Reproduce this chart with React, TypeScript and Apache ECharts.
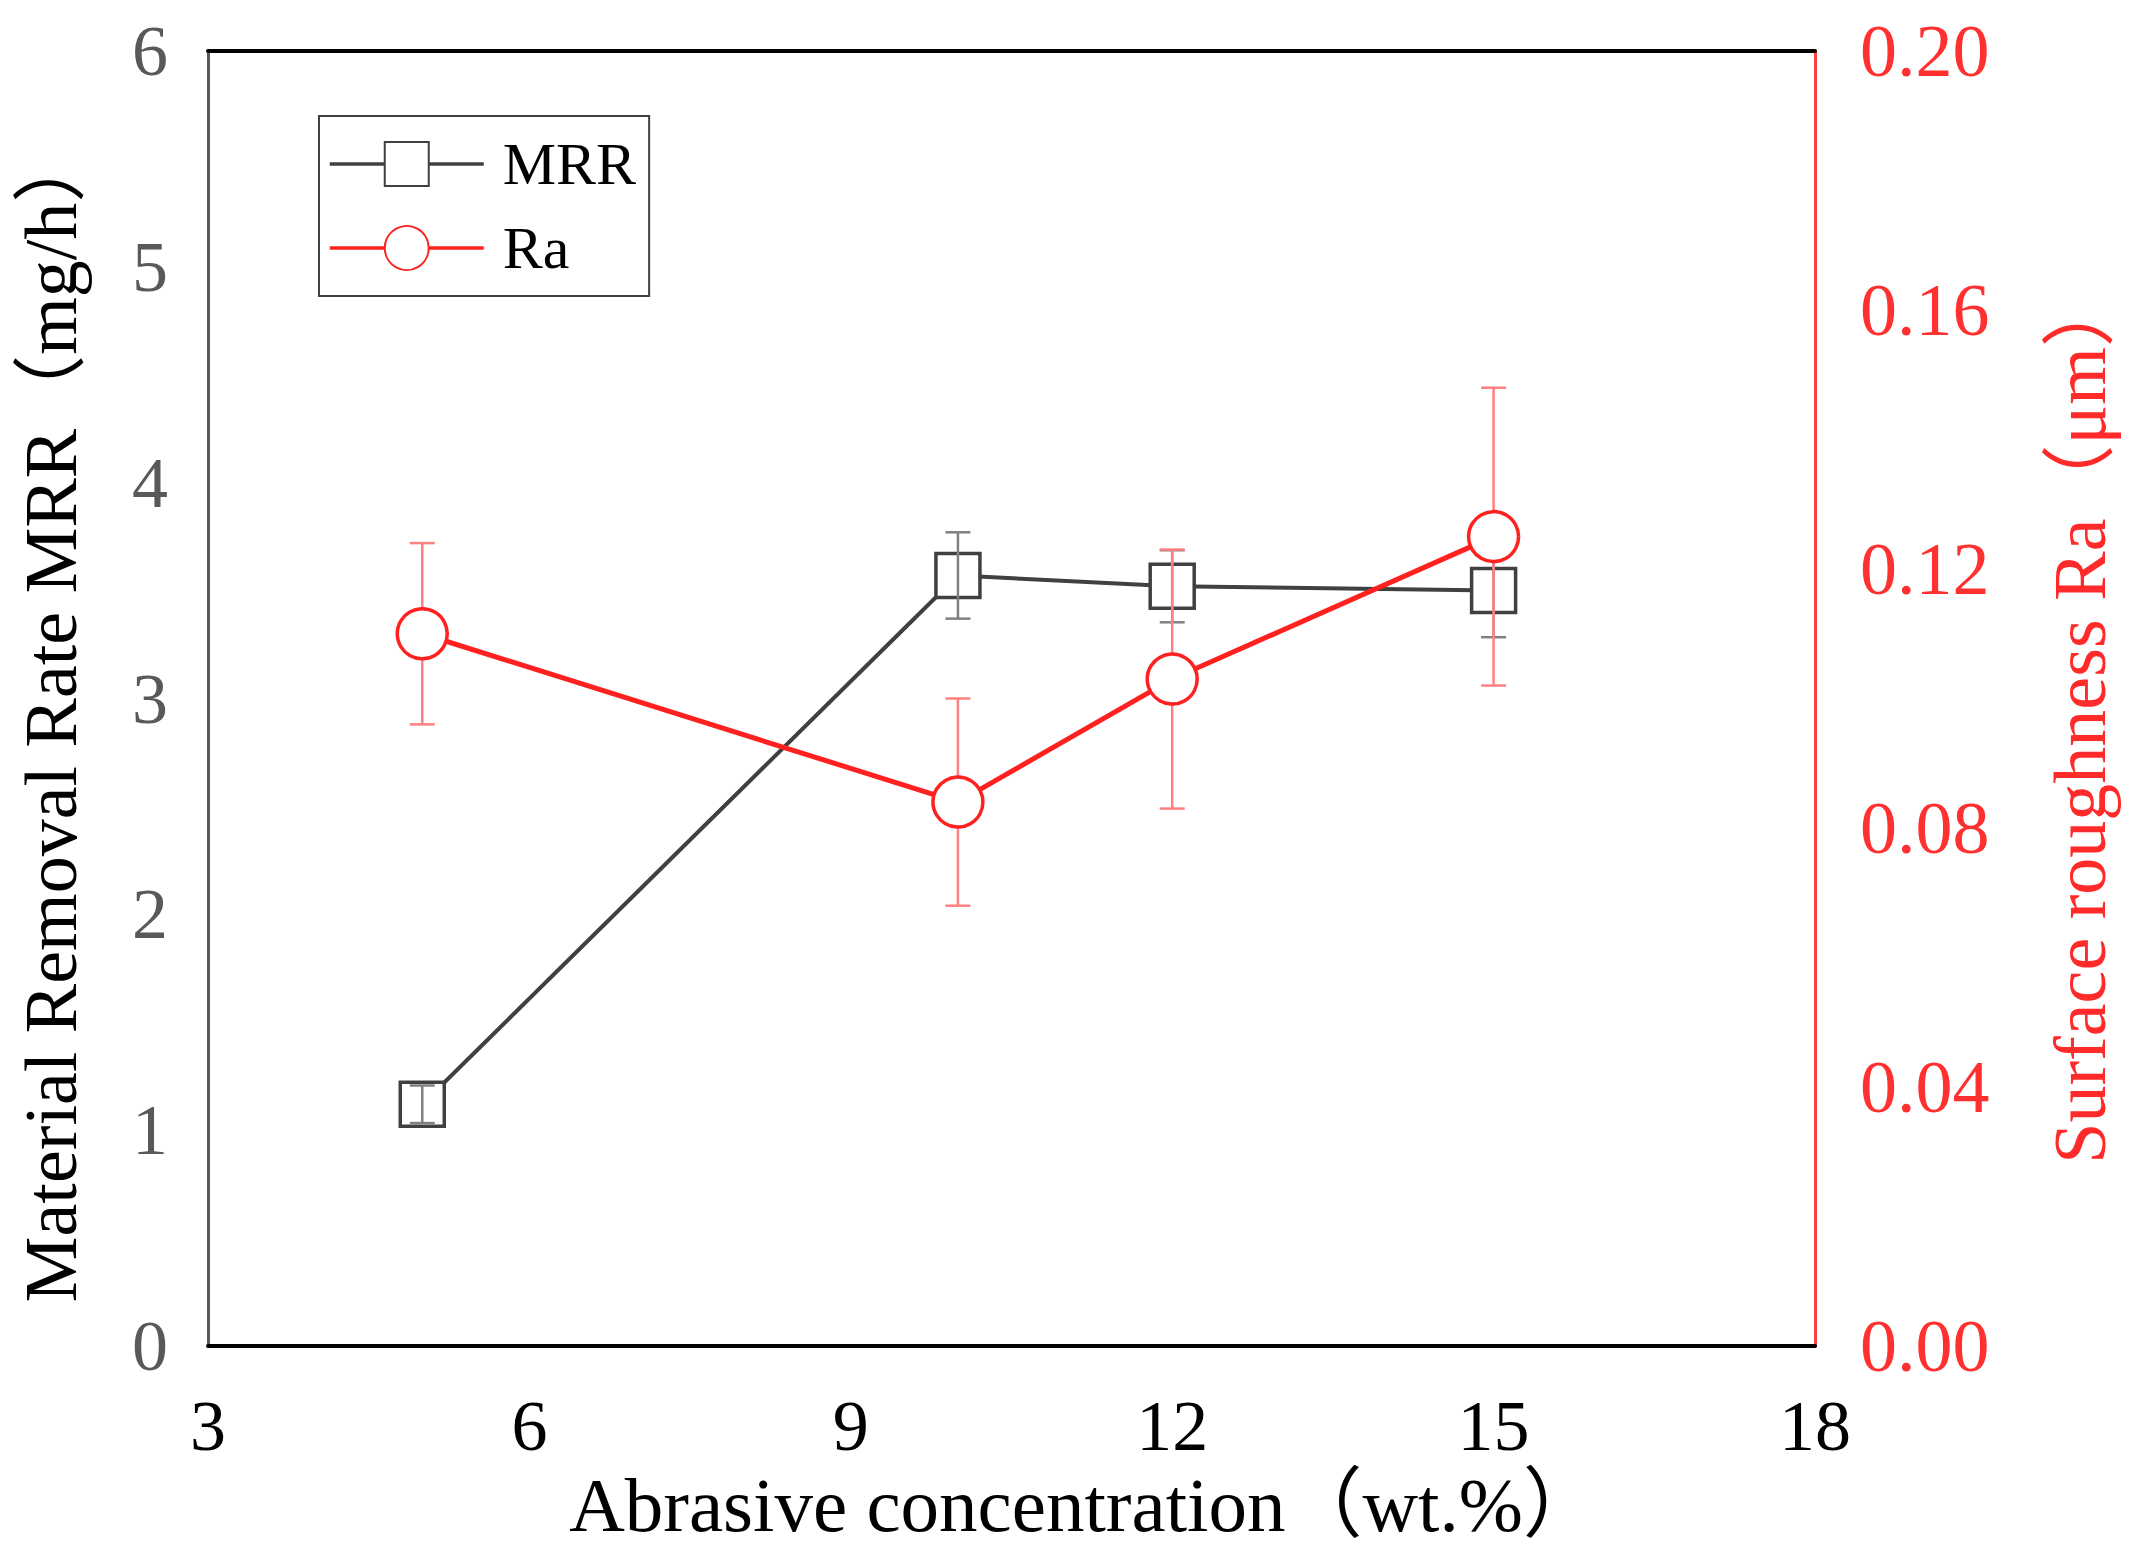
import React, { useEffect, useRef } from "react";
import * as echarts from "echarts";

const concentrations = [5, 10, 12, 15];
const mrrValues = [1.12, 3.57, 3.52, 3.5];
const mrrErrors = [0.087, 0.2, 0.167, 0.216];
const raValues = [0.11, 0.084, 0.103, 0.125];
const raErrors = [0.014, 0.016, 0.02, 0.023];
const xTicks = { min: 3, max: 18, interval: 3 };
const leftTicks = { min: 0, max: 6, interval: 1 };
const rightTicks = { min: 0, max: 0.2, interval: 0.04 };

const FONT = "'Liberation Serif', 'Times New Roman', 'Noto Sans CJK SC', serif";
const MRR_COLOR = "#404040";
const RA_COLOR = "#ff2020";

function errorBarRenderer(color: string) {
  return (params: any, api: any) => {
    const x = api.value(0);
    const lo = api.value(1);
    const hi = api.value(2);
    const top = api.coord([x, hi]);
    const bot = api.coord([x, lo]);
    const hw = 12.5;
    const style = { stroke: color, lineWidth: 2.5 };
    return {
      type: "group",
      children: [
        { type: "line", shape: { x1: top[0], y1: top[1], x2: bot[0], y2: bot[1] }, style },
        { type: "line", shape: { x1: top[0] - hw, y1: top[1], x2: top[0] + hw, y2: top[1] }, style },
        { type: "line", shape: { x1: bot[0] - hw, y1: bot[1], x2: bot[0] + hw, y2: bot[1] }, style },
      ],
    };
  };
}

export default function App() {
  const ref = useRef<HTMLDivElement>(null);
  useEffect(() => {
    document.body.style.margin = "0";
    const chart = echarts.init(ref.current!, null, { renderer: "svg" });
    const mrrData = concentrations.map((x, i) => [x, mrrValues[i]]);
    const raData = concentrations.map((x, i) => [x, raValues[i]]);
    const mrrErrData = concentrations.map((x, i) => [x, mrrValues[i] - mrrErrors[i], mrrValues[i] + mrrErrors[i]]);
    const raErrData = concentrations.map((x, i) => [x, raValues[i] - raErrors[i], raValues[i] + raErrors[i]]);
    chart.setOption({
      animation: false,
      backgroundColor: "#ffffff",
      grid: { left: 208, right: 326, top: 51, bottom: 218 },
      legend: {
        data: ["MRR", "Ra"],
        orient: "vertical",
        left: 319,
        top: 116,
        padding: [10, 13, 10, 9],
        itemWidth: 154,
        itemHeight: 55,
        itemGap: 8,
        borderColor: "#404040",
        borderWidth: 2,
        backgroundColor: "#ffffff",
        lineStyle: { width: 3.5 },
        textStyle: { fontFamily: FONT, fontSize: 60, color: "#000000", lineHeight: 76, padding: [0, 0, 0, 14] },
      },
      xAxis: [
        {
          type: "value",
          min: xTicks.min,
          max: xTicks.max,
          interval: xTicks.interval,
          position: "bottom",
          name: "Abrasive concentration（wt.%）",
          nameLocation: "middle",
          nameGap: 120,
          nameTextStyle: { fontFamily: FONT, fontSize: 77, color: "#000000", padding: [0, 0, 0, 146] },
          axisLine: { show: true, onZero: false, lineStyle: { color: "#000000", width: 4 } },
          axisTick: { show: false },
          splitLine: { show: false },
          axisLabel: { fontFamily: FONT, fontSize: 72, color: "#000000", margin: 44 },
        },
        {
          type: "value",
          min: xTicks.min,
          max: xTicks.max,
          interval: xTicks.interval,
          position: "top",
          axisLine: { show: true, onZero: false, lineStyle: { color: "#000000", width: 4 } },
          axisTick: { show: false },
          axisLabel: { show: false },
          splitLine: { show: false },
        },
      ],
      yAxis: [
        {
          type: "value",
          position: "left",
          min: leftTicks.min,
          max: leftTicks.max,
          interval: leftTicks.interval,
          name: "Material Removal Rate MRR（mg/h）",
          nameLocation: "middle",
          nameGap: 120,
          nameTextStyle: { fontFamily: FONT, fontSize: 74, color: "#000000", padding: [0, 34, 0, 0] },
          axisLine: { show: true, onZero: false, lineStyle: { color: "#595959", width: 3 } },
          axisTick: { show: false },
          splitLine: { show: false },
          axisLabel: { fontFamily: FONT, fontSize: 72, color: "#595959", margin: 40 },
        },
        {
          type: "value",
          position: "right",
          min: rightTicks.min,
          max: rightTicks.max,
          interval: rightTicks.interval,
          name: "Surface roughness Ra（μm）",
          nameLocation: "middle",
          nameGap: 228,
          nameTextStyle: { fontFamily: FONT, fontSize: 74, color: "#ff2a2a", padding: [0, 40, 0, 0] },
          axisLine: { show: true, onZero: false, lineStyle: { color: "#ff4040", width: 3 } },
          axisTick: { show: false },
          splitLine: { show: false },
          axisLabel: {
            fontFamily: FONT,
            fontSize: 74,
            color: "#ff3030",
            margin: 45,
            formatter: (v: number) => v.toFixed(2),
          },
        },
      ],
      series: [
        {
          name: "MRR",
          type: "line",
          xAxisIndex: 0,
          yAxisIndex: 0,
          data: mrrData,
          symbol: "rect",
          symbolSize: 44,
          z: 2,
          lineStyle: { color: MRR_COLOR, width: 4 },
          itemStyle: { color: "#ffffff", borderColor: MRR_COLOR, borderWidth: 3.5 },
        },
        {
          name: "MRR error",
          type: "custom",
          xAxisIndex: 0,
          yAxisIndex: 0,
          data: mrrErrData,
          encode: { x: 0, y: [1, 2] },
          renderItem: errorBarRenderer("#808080"),
          z: 3,
        },
        {
          name: "Ra error",
          type: "custom",
          xAxisIndex: 0,
          yAxisIndex: 1,
          data: raErrData,
          encode: { x: 0, y: [1, 2] },
          renderItem: errorBarRenderer("#ff8080"),
          z: 4,
        },
        {
          name: "Ra",
          type: "line",
          xAxisIndex: 0,
          yAxisIndex: 1,
          data: raData,
          symbol: "circle",
          symbolSize: 50,
          z: 5,
          lineStyle: { color: RA_COLOR, width: 5 },
          itemStyle: { color: "#ffffff", borderColor: RA_COLOR, borderWidth: 3.5 },
        },
      ],
    });
    return () => chart.dispose();
  }, []);
  return <div ref={ref} style={{ position: "absolute", left: 0, top: 0, width: 2141, height: 1564 }} />;
}
